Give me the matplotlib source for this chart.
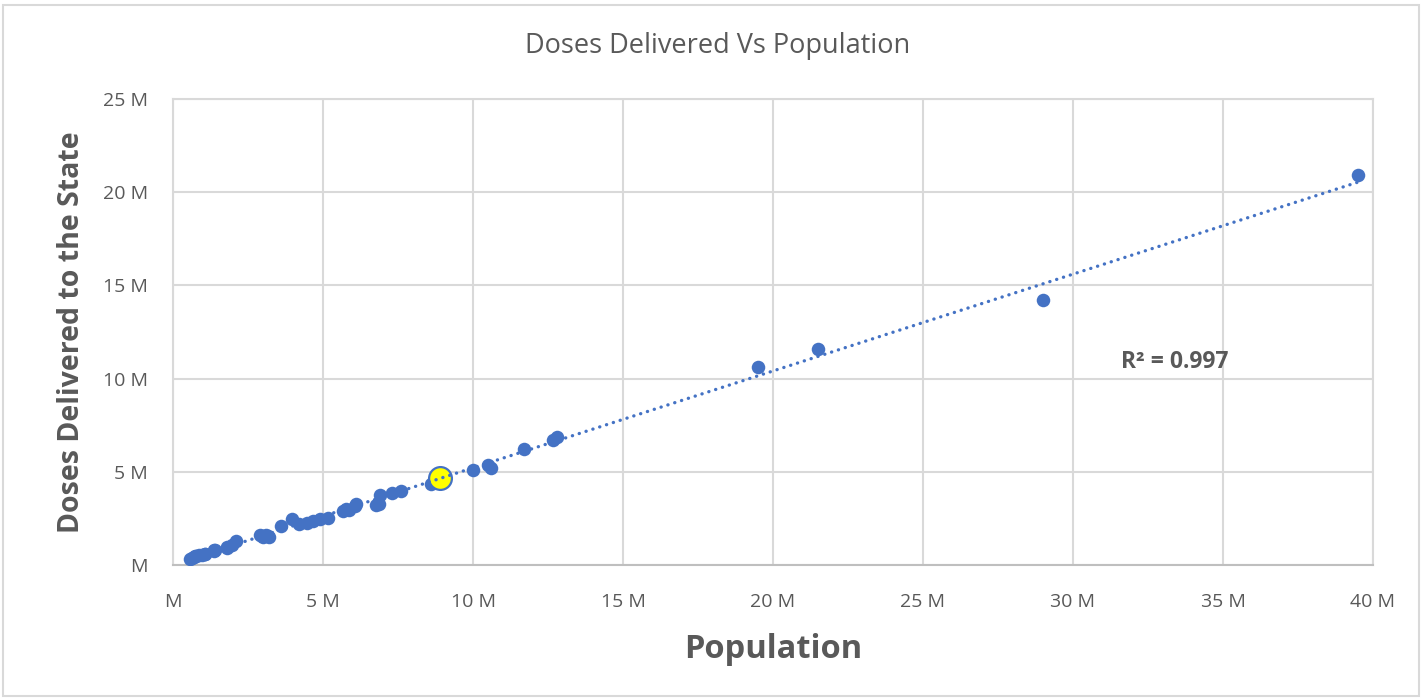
import matplotlib
matplotlib.use('Agg')
import matplotlib.pyplot as plt
import numpy as np
from matplotlib.patches import Rectangle
from matplotlib.ticker import FuncFormatter, MultipleLocator

plt.rcParams['font.family'] = ['Open Sans', 'DejaVu Sans']

# population (millions) and doses delivered (millions)
population = [39.5, 29.0, 21.5, 19.5, 12.8, 12.65, 11.7, 10.6, 10.5, 10.0,
              8.6, 7.6, 7.3, 6.9, 6.85, 6.75, 6.05, 6.1, 5.85, 5.75,
              5.65, 5.15, 4.9, 4.65, 4.45, 4.2, 3.95, 3.6, 3.2, 3.15,
              3.1, 3.0, 2.95, 2.9, 2.1, 1.95, 1.8, 1.8, 1.4, 1.35,
              1.35, 1.07, 1.06, 0.97, 0.88, 0.76, 0.73, 0.7, 0.62, 0.58]
doses = [20.9, 14.2, 11.6, 10.6, 6.85, 6.7, 6.2, 5.2, 5.35, 5.1,
         4.35, 3.95, 3.85, 3.75, 3.25, 3.2, 3.15, 3.3, 2.95, 3.0,
         2.9, 2.5, 2.45, 2.35, 2.25, 2.2, 2.45, 2.1, 1.5, 1.55,
         1.6, 1.5, 1.55, 1.6, 1.3, 1.05, 0.95, 0.9, 0.8, 0.8,
         0.75, 0.6, 0.6, 0.55, 0.55, 0.5, 0.5, 0.45, 0.4, 0.35]

# highlighted state and its neighbour joined by a solid line
hl_pop, hl_dose = 8.9, 4.65
link_pop = [8.6, 8.9]
link_dose = [4.35, 4.65]
r2_label = 'R² = 0.997'

BLUE = '#4472C4'
GREY = '#595959'
GRID = '#d9d9d9'

fig = plt.figure(figsize=(14.22, 6.98), dpi=100)
fig.patch.set_facecolor('white')
fig.patches.append(Rectangle((0.002, 0.003), 0.996, 0.99, transform=fig.transFigure,
                             fill=False, edgecolor=GRID, linewidth=1.5))

ax = fig.add_axes([0.1217, 0.1905, 0.8438, 0.6677])

x = np.array(population + [hl_pop]) * 1e6
y = np.array(doses + [hl_dose]) * 1e6
slope, intercept = np.polyfit(x, y, 1)
xs = np.array([x.min(), x.max()])

ax.scatter(np.array(population) * 1e6, np.array(doses) * 1e6, s=95, color=BLUE,
           linewidth=0, zorder=3)
ax.plot(np.array(link_pop) * 1e6, np.array(link_dose) * 1e6, color=BLUE, lw=2.5, zorder=3)
ax.scatter([hl_pop * 1e6], [hl_dose * 1e6], s=270, color='#FFFF00', edgecolor=BLUE,
           linewidth=1.6, zorder=4)
ax.plot(xs, slope * xs + intercept, color=BLUE, lw=2.4, linestyle=(0, (0.05, 2.1)),
        dash_capstyle='round', zorder=5)

ax.text(33.4e6, 10.9e6, r2_label, ha='center', va='center', fontsize=16.5,
        fontweight='bold', color=GREY)

ax.set_xlim(0, 40e6)
ax.set_ylim(0, 25e6)
ax.xaxis.set_major_locator(MultipleLocator(5e6))
ax.yaxis.set_major_locator(MultipleLocator(5e6))
fmt = FuncFormatter(lambda v, p: 'M' if v == 0 else f'{v / 1e6:.0f} M')
ax.xaxis.set_major_formatter(fmt)
ax.yaxis.set_major_formatter(fmt)
ax.tick_params(length=0, labelsize=14, colors=GREY)
ax.tick_params(axis='x', pad=20)
ax.tick_params(axis='y', pad=18)
ax.grid(True, color=GRID, linewidth=1.5)
ax.set_axisbelow(True)
for s in ax.spines.values():
    s.set_color(GRID)
    s.set_linewidth(1.5)
ax.spines['bottom'].set_color('#bfbfbf')

ax.set_xlabel('Population', fontsize=23.5, fontweight='bold', color=GREY, labelpad=16)
ax.set_ylabel('Doses Delivered to the State', fontsize=20.5, fontweight='bold',
              color=GREY, labelpad=12)
fig.text(0.505, 0.934, 'Doses Delivered Vs Population', ha='center', va='center',
         fontsize=19.5, color=GREY)

fig.savefig('out.png', dpi=100, facecolor='white')
